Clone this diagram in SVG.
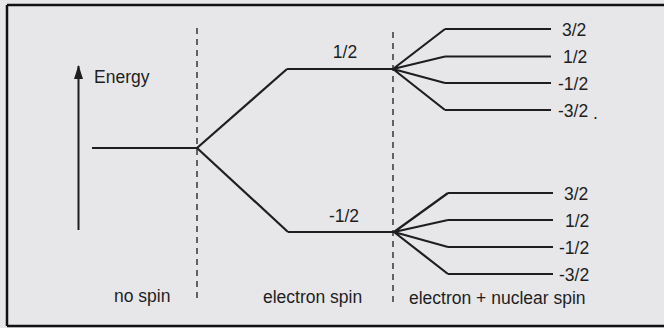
<svg xmlns="http://www.w3.org/2000/svg" width="664" height="328" viewBox="0 0 664 328">
<defs>
<style>
.lvl{fill:none;stroke:#1e1e1e;stroke-width:2.2;stroke-linejoin:round}
.dash{stroke:#2a2a2a;stroke-width:1.4;stroke-dasharray:6 5}
text{font-family:"Liberation Sans",Arial,sans-serif;font-size:17.5px;fill:#1e1e1e}
.m{text-anchor:middle}
</style>
<marker id="ah" markerWidth="14" markerHeight="10" refX="13" refY="5" orient="auto" markerUnits="userSpaceOnUse" viewBox="0 0 14 10">
<path d="M14,5 L0,0.5 L0,9.5 Z" fill="#1e1e1e"/>
</marker>
</defs>
<rect x="0" y="0" width="664" height="328" fill="#e7e7ea"/>
<path d="M7,5 H664 M7,5 V326 M7,326 H664" fill="none" stroke="#111" stroke-width="2.5"/>
<g id="energy-axis">
<line x1="78.5" y1="230" x2="78.5" y2="66" stroke="#1e1e1e" stroke-width="2" marker-end="url(#ah)"/>
<text x="94" y="83">Energy</text>
</g>
<g id="dividers">
<line class="dash" x1="197" y1="28" x2="197" y2="298"/>
<line class="dash" x1="393" y1="32" x2="393" y2="302"/>
</g>
<g id="no-spin">
<line class="lvl" x1="92" y1="148" x2="197" y2="148"/>
</g>
<g id="electron-up">
<line class="lvl" x1="287" y1="69" x2="393" y2="69"/>
<text class="m" x="345" y="58">1/2</text>
</g>
<g id="electron-down">
<line class="lvl" x1="288" y1="232" x2="394" y2="232"/>
<text class="m" x="344" y="222">-1/2</text>
</g>
<g id="nuclear-upper">
<line class="lvl" x1="445" y1="29" x2="551" y2="29"/>
<line class="lvl" x1="445" y1="56.5" x2="551" y2="56.5"/>
<line class="lvl" x1="445" y1="83" x2="551" y2="83"/>
<line class="lvl" x1="445" y1="110" x2="551" y2="110"/>
<text x="562" y="36">3/2</text>
<text x="563" y="63">1/2</text>
<text x="558" y="90">-1/2</text>
<text x="558" y="117">-3/2</text>
<text x="593" y="119">.</text>
</g>
<g id="nuclear-lower">
<line class="lvl" x1="448" y1="193" x2="553" y2="193"/>
<line class="lvl" x1="448" y1="220" x2="553" y2="220"/>
<line class="lvl" x1="448" y1="247" x2="553" y2="247"/>
<line class="lvl" x1="448" y1="274" x2="553" y2="274"/>
<text x="564" y="200">3/2</text>
<text x="565" y="227">1/2</text>
<text x="559" y="254">-1/2</text>
<text x="559" y="281">-3/2</text>
</g>
<g id="connectors">
<path class="lvl" d="M197,148 L287,69"/>
<path class="lvl" d="M197,148 L288,232"/>
<path class="lvl" d="M393,69 L445,29 M393,69 L445,56.5 M393,69 L445,83 M393,69 L445,110"/>
<path class="lvl" d="M394,232 L448,193 M394,232 L448,220 M394,232 L448,247 M394,232 L448,274"/>
</g>
<g id="section-labels">
<text x="114" y="302">no spin</text>
<text x="263" y="303">electron spin</text>
<text x="409" y="304">electron + nuclear spin</text>
</g>
</svg>
